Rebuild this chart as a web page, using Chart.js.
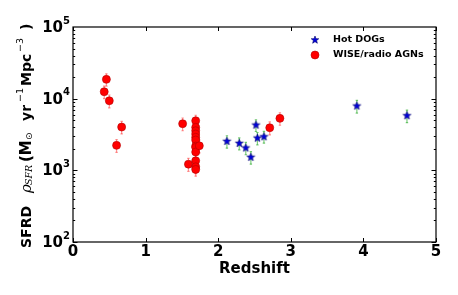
<!DOCTYPE html>
<html>
<head>
<meta charset="utf-8">
<script src="https://cdn.jsdelivr.net/npm/chart.js@4"></script>
<style>
html,body{margin:0;padding:0;background:#fff;}
#wrap{width:458px;height:295px;position:relative;}
</style>
</head>
<body>
<div id="wrap"><canvas id="c" width="458" height="295"></canvas></div>
<script>
// ---- data ----
const hotLabel = 'Hot DOGs';
const hotZ    = [2.12, 2.29, 2.38, 2.45, 2.52, 2.54, 2.63, 3.91, 4.60];
const hotSFRD = [2540, 2380, 2050, 1520, 4280, 2820, 2940, 7890, 5780];
const hotErr  = [500, 450, 400, 300, 800, 550, 550, 1600, 1150];

const agnLabel = 'WISE/radio AGNs';
const agnZ    = [0.43, 0.46, 0.50, 0.60, 0.67, 1.51, 1.59,
                 1.69, 1.69, 1.69, 1.69, 1.69, 1.69, 1.69, 1.69, 1.69, 1.69, 1.69, 1.69,
                 1.74, 2.71, 2.85];
const agnSFRD = [12500, 18600, 9350, 2230, 4020, 4470, 1220,
                 4920, 3980, 3570, 3210, 2890, 2650, 2180, 2090, 1800, 1360, 1120, 1030,
                 2200, 3930, 5310];
const agnErr  = [2500, 3600, 1900, 450, 800, 900, 250,
                 950, 800, 700, 650, 600, 550, 450, 400, 350, 270, 220, 200,
                 450, 800, 1050];

const xTicks = [0, 1, 2, 3, 4, 5];
const yTicks = [100, 1000, 10000, 100000];
const xTitle = 'Redshift';

// ---- star marker ----
function makeStar(r, fill, stroke){
  const s = Math.ceil(r*2+4);
  const cv = document.createElement('canvas');
  cv.width = s; cv.height = s;
  const g = cv.getContext('2d');
  const cx = s/2, cy = s/2;
  g.beginPath();
  for(let i=0;i<10;i++){
    const rr = i%2===0 ? r : r*0.42;
    const a = -Math.PI/2 + i*Math.PI/5;
    const x = cx + rr*Math.cos(a), y = cy + rr*Math.sin(a);
    if(i===0) g.moveTo(x,y); else g.lineTo(x,y);
  }
  g.closePath();
  g.fillStyle = fill; g.fill();
  g.lineWidth = 0.6; g.strokeStyle = stroke; g.stroke();
  return cv;
}
const starImg = makeStar(4.2, '#0000e0', '#00006a');
const starImgLegend = makeStar(4.0, '#0000e0', '#00006a');

const FONT = "'DejaVu Sans', sans-serif";

// ---- plugin: frame, ticks, labels, error bars, legend, y title ----
const decor = {
  id: 'decor',
  beforeDatasetsDraw(chart){
    const ctx = chart.ctx, xs = chart.scales.x, ys = chart.scales.y;
    ctx.save();
    const sets = [
      {z: agnZ, v: agnSFRD, e: agnErr, col: 'rgba(255,60,60,0.55)'},
      {z: hotZ, v: hotSFRD, e: hotErr, col: 'rgba(40,170,40,0.6)'}
    ];
    sets.forEach(s => {
      ctx.strokeStyle = s.col; ctx.lineWidth = 1.2;
      s.z.forEach((z,i) => {
        const x = xs.getPixelForValue(z);
        const y1 = ys.getPixelForValue(s.v[i] + s.e[i]);
        const y2 = ys.getPixelForValue(s.v[i] - s.e[i]);
        ctx.beginPath(); ctx.moveTo(x, y1); ctx.lineTo(x, y2); ctx.stroke();
        ctx.beginPath(); ctx.moveTo(x-1.2, y1); ctx.lineTo(x+1.2, y1);
        ctx.moveTo(x-1.2, y2); ctx.lineTo(x+1.2, y2); ctx.stroke();
      });
    });
    ctx.restore();
  },
  afterDraw(chart){
    const ctx = chart.ctx, a = chart.chartArea, xs = chart.scales.x, ys = chart.scales.y;
    ctx.save();
    // frame
    ctx.strokeStyle = '#000'; ctx.lineWidth = 1.2;
    ctx.strokeRect(a.left, a.top, a.right - a.left, a.bottom - a.top);
    // x ticks (inward, top and bottom)
    ctx.lineWidth = 1;
    xTicks.forEach(t => {
      const x = Math.round(xs.getPixelForValue(t)) + 0.5;
      ctx.beginPath();
      ctx.moveTo(x, a.bottom); ctx.lineTo(x, a.bottom - 4);
      ctx.moveTo(x, a.top); ctx.lineTo(x, a.top + 4);
      ctx.stroke();
    });
    // y ticks: major + minor
    for(let d = 2; d < 5; d++){
      for(let m = 1; m < 10; m++){
        const v = m * Math.pow(10, d);
        const y = Math.round(ys.getPixelForValue(v)) + 0.5;
        const L = m === 1 ? 4.5 : 2.2;
        ctx.beginPath();
        ctx.moveTo(a.left, y); ctx.lineTo(a.left + L, y);
        ctx.moveTo(a.right, y); ctx.lineTo(a.right - L, y);
        ctx.stroke();
      }
    }
    // x tick labels
    ctx.fillStyle = '#000';
    ctx.font = 'bold 15px ' + FONT;
    ctx.textAlign = 'center'; ctx.textBaseline = 'middle';
    xTicks.forEach(t => {
      ctx.fillText(String(t), xs.getPixelForValue(t), a.bottom + 10);
    });
    // x title
    ctx.font = 'bold 15px ' + FONT;
    ctx.fillText(xTitle, (a.left + a.right)/2, a.bottom + 27);
    // y tick labels 10^n
    yTicks.forEach(v => {
      const y = ys.getPixelForValue(v);
      const ex = String(Math.round(Math.log10(v)));
      ctx.font = 'bold 10px ' + FONT;
      const we = ctx.measureText(ex).width;
      ctx.textAlign = 'right'; ctx.textBaseline = 'middle';
      ctx.fillText(ex, a.left - 3, y - 6);
      ctx.font = 'bold 15px ' + FONT;
      ctx.fillText('10', a.left - 3 - we, y + 1);
    });
    // y title (rotated), parts placed along the axis from the bottom
    const B = 'bold 14px ' + FONT;
    const parts = [
      {t:'SFRD', f:B, at:0, dy:0},
      {t:'\u03C1', f:"italic 15px 'DejaVu Serif', serif", at:55, dy:0},
      {t:'SFR', f:"italic 9.5px 'DejaVu Serif', serif", at:63, dy:3},
      {t:'(M', f:'bold 15px ' + FONT, at:86, dy:0},
      {t:'\u2299', f:'9px ' + FONT, at:108, dy:3},
      {t:'yr', f:B, at:127, dy:0},
      {t:'\u22121', f:'9.5px ' + FONT, at:146, dy:-6},
      {t:'Mpc', f:B, at:162, dy:0},
      {t:'\u22123', f:'9.5px ' + FONT, at:196, dy:-6},
      {t:')', f:B, at:218, dy:0}
    ];
    ctx.translate(27, 248);
    ctx.rotate(-Math.PI/2);
    ctx.textAlign = 'left'; ctx.textBaseline = 'middle';
    parts.forEach(p => { ctx.font = p.f; ctx.fillText(p.t, p.at, p.dy); });
    ctx.setTransform(1,0,0,1,0,0);
    // legend
    const lx = 315, ly = [40, 55];
    ctx.drawImage(starImgLegend, lx - starImgLegend.width/2, ly[0] - starImgLegend.height/2);
    ctx.beginPath(); ctx.arc(lx, ly[1], 4, 0, Math.PI*2);
    ctx.fillStyle = '#ff0000'; ctx.fill();
    ctx.strokeStyle = '#b00000'; ctx.lineWidth = 0.6; ctx.stroke();
    ctx.fillStyle = '#000';
    ctx.font = 'bold 9.5px ' + FONT; ctx.textAlign = 'left'; ctx.textBaseline = 'middle';
    ctx.fillText(hotLabel, 333, ly[0]);
    ctx.fillText(agnLabel, 333, ly[1]);
    ctx.restore();
  }
};

new Chart(document.getElementById('c'), {
  type: 'scatter',
  data: {
    datasets: [
      {
        label: agnLabel,
        data: agnZ.map((z,i) => ({x: z, y: agnSFRD[i]})),
        pointStyle: 'circle', pointRadius: 4, pointHoverRadius: 4,
        backgroundColor: '#ff0000', borderColor: '#b00000', borderWidth: 0.6
      },
      {
        label: hotLabel,
        data: hotZ.map((z,i) => ({x: z, y: hotSFRD[i]})),
        pointStyle: starImg, pointRadius: 4, pointHoverRadius: 4,
        backgroundColor: '#0000e0', borderColor: '#00006a'
      }
    ]
  },
  options: {
    responsive: false, animation: false,
    layout: {padding: {top: 27, right: 22, left: 0, bottom: 0}},
    plugins: {legend: {display: false}, tooltip: {enabled: false}},
    scales: {
      x: {
        type: 'linear', min: 0, max: 5,
        grid: {display: false}, border: {display: false},
        ticks: {display: false},
        afterFit(s){ s.height = 53; }
      },
      y: {
        type: 'logarithmic', min: 100, max: 100000,
        grid: {display: false}, border: {display: false},
        ticks: {display: false},
        afterFit(s){ s.width = 73; }
      }
    }
  },
  plugins: [decor]
});
</script>
</body>
</html>
